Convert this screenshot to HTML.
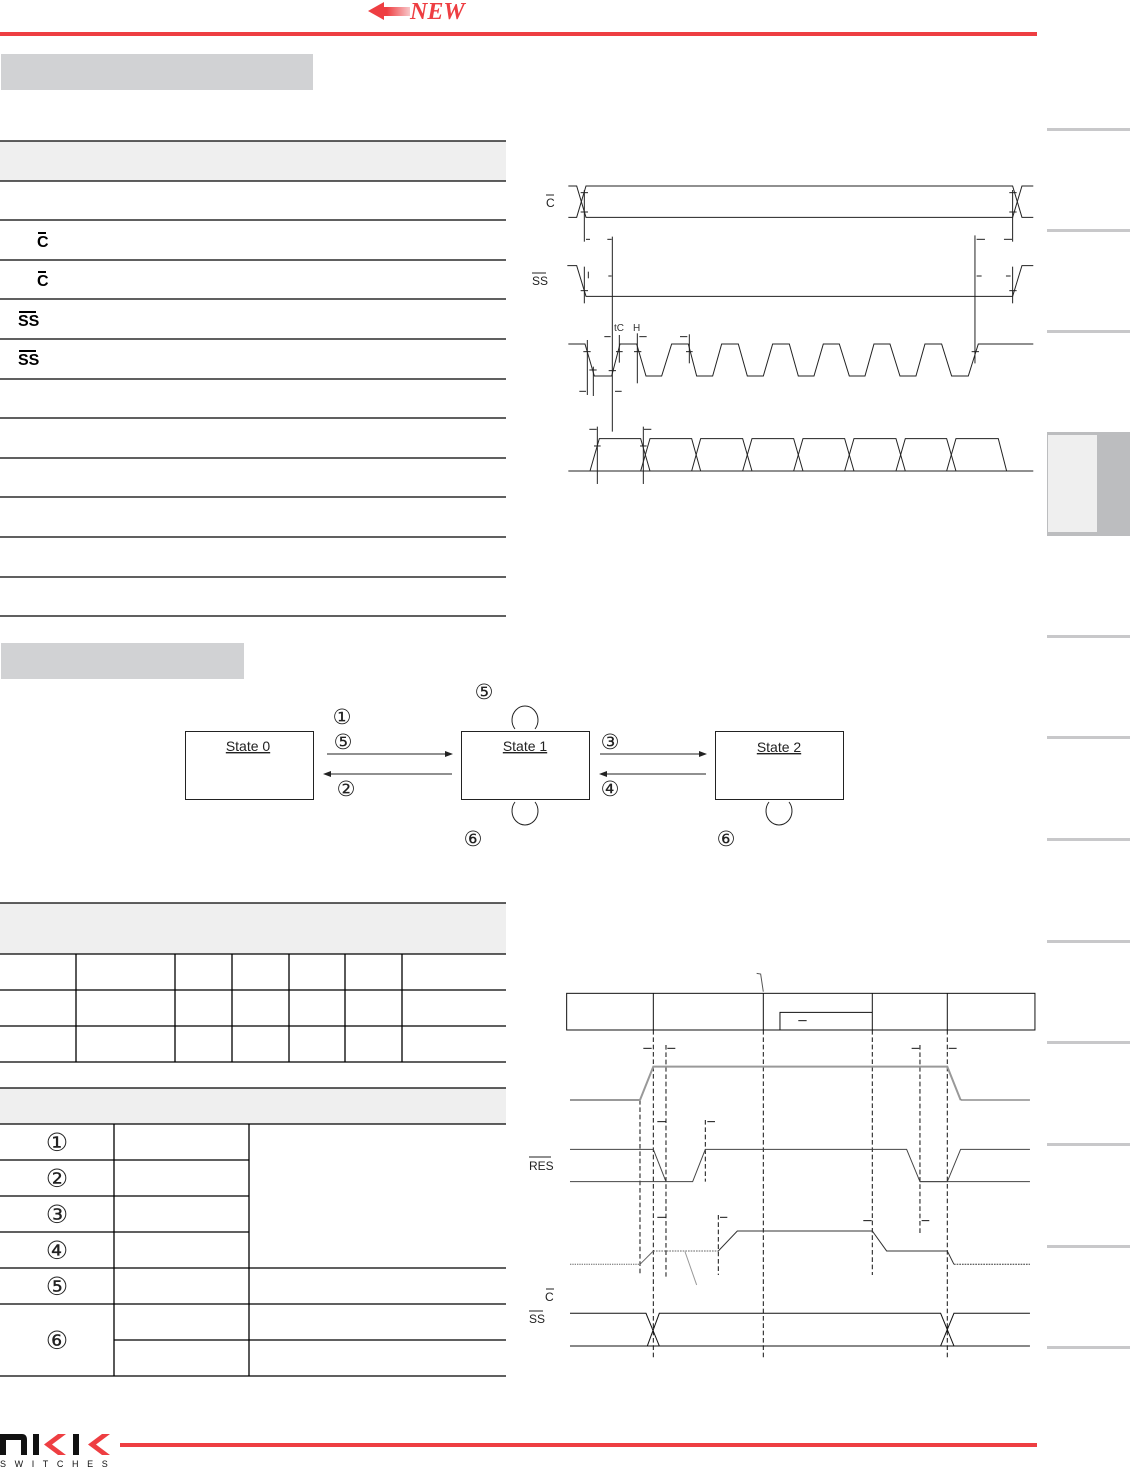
<!DOCTYPE html>
<html><head><meta charset="utf-8"><style>
html,body{margin:0;padding:0;background:#fff;}
svg{display:block;font-family:"Liberation Sans",sans-serif;}
</style></head><body>
<svg width="1130" height="1469" viewBox="0 0 1130 1469" xmlns="http://www.w3.org/2000/svg">
<defs>
<linearGradient id="ag" x1="0" x2="1"><stop offset="0" stop-color="#ee3e42"/><stop offset="0.45" stop-color="#ee3e42"/><stop offset="1" stop-color="#f8c8ca"/></linearGradient>
</defs>
<!-- header -->
<polygon points="368,11 384,2 384,7 410,7 410,16 384,16 384,20" fill="url(#ag)"/>
<text x="410" y="19" style="font-family:'Liberation Serif',serif;font-style:italic;font-weight:bold;font-size:24px" fill="#ee3e42">NEW</text>
<rect x="0" y="32" width="1037" height="4" fill="#ee3e42"/>
<rect x="1" y="54" width="312" height="36" fill="#d1d2d4"/>

<!-- sidebar -->
<g fill="#c8c8ca">
<rect x="1047" y="128" width="83" height="3"/><rect x="1047" y="229" width="83" height="3"/><rect x="1047" y="330" width="83" height="3"/>
<rect x="1047" y="635" width="83" height="3"/><rect x="1047" y="736" width="83" height="3"/><rect x="1047" y="838" width="83" height="3"/>
<rect x="1047" y="940" width="83" height="3"/><rect x="1047" y="1041" width="83" height="3"/><rect x="1047" y="1143" width="83" height="3"/>
<rect x="1047" y="1245" width="83" height="3"/><rect x="1047" y="1346" width="83" height="3"/>
</g>
<rect x="1047" y="432" width="83" height="104" fill="#bcbdbf"/>
<rect x="1048" y="435" width="49" height="97" fill="#efefef"/>

<!-- table 1 -->
<rect x="0" y="141" width="506" height="40" fill="#efefef"/>
<g stroke="#000" stroke-width="1.3">
<line x1="0" y1="141" x2="506" y2="141"/><line x1="0" y1="181" x2="506" y2="181"/><line x1="0" y1="220" x2="506" y2="220"/>
<line x1="0" y1="260" x2="506" y2="260"/><line x1="0" y1="299" x2="506" y2="299"/><line x1="0" y1="339" x2="506" y2="339"/>
<line x1="0" y1="379" x2="506" y2="379"/><line x1="0" y1="418" x2="506" y2="418"/><line x1="0" y1="458" x2="506" y2="458"/>
<line x1="0" y1="497" x2="506" y2="497"/><line x1="0" y1="537" x2="506" y2="537"/><line x1="0" y1="577" x2="506" y2="577"/>
<line x1="0" y1="616" x2="506" y2="616"/>
</g>
<g font-weight="bold" font-size="16">
<text x="37" y="247">C</text><rect x="38" y="232" width="8" height="2"/>
<text x="37" y="286">C</text><rect x="38" y="271" width="8" height="2"/>
<text x="18" y="326">SS</text><rect x="19" y="311" width="17" height="2"/>
<text x="18" y="365">SS</text><rect x="19" y="350" width="17" height="2"/>
</g>

<!-- timing diagram 1 -->
<g transform="translate(560,170) scale(0.3333)" fill="none" stroke="#222" stroke-width="3">
<polyline points="25,48 50,48 78,142 1358,142 1386,48 1420,48"/>
<polyline points="25,142 50,142 78,48 1358,48 1386,142 1420,142"/>
<line x1="73" y1="60" x2="73" y2="215"/><line x1="73" y1="290" x2="73" y2="400"/>
<line x1="1358" y1="60" x2="1358" y2="215"/><line x1="1358" y1="290" x2="1358" y2="400"/>
<line x1="62" y1="68" x2="84" y2="68"/><line x1="62" y1="126" x2="84" y2="126"/>
<line x1="1348" y1="68" x2="1370" y2="68"/><line x1="1348" y1="126" x2="1370" y2="126"/>
<line x1="78" y1="208" x2="90" y2="208"/><line x1="142" y1="208" x2="155" y2="208"/>
<line x1="1250" y1="208" x2="1275" y2="208"/><line x1="1332" y1="208" x2="1356" y2="208"/>
<line x1="145" y1="318" x2="155" y2="318"/><line x1="1250" y1="318" x2="1265" y2="318"/><line x1="1338" y1="318" x2="1352" y2="318"/>
<polyline points="22,287 50,287 78,379 1358,379 1386,287 1420,287"/>
<line x1="62" y1="362" x2="84" y2="362"/><line x1="1348" y1="362" x2="1370" y2="362"/>
<line x1="85" y1="305" x2="85" y2="325"/>
<line x1="157" y1="200" x2="157" y2="785"/>
<line x1="1245" y1="196" x2="1245" y2="580"/>
<polyline points="25,522 75,522 103,618 155,618 180,522 230,522 258,618 305,618 335,522 385,522 410,618 458,618 485,522 535,522 562,618 610,618 638,522 688,522 715,618 762,618 790,522 838,522 868,618 915,618 942,522 990,522 1020,618 1068,618 1095,522 1145,522 1175,618 1225,618 1255,522 1420,522"/>
<line x1="82" y1="510" x2="82" y2="675"/><line x1="100" y1="590" x2="100" y2="678"/>
<line x1="178" y1="495" x2="178" y2="578"/><line x1="232" y1="490" x2="232" y2="640"/><line x1="388" y1="493" x2="388" y2="580"/>
<line x1="70" y1="545" x2="92" y2="545"/><line x1="88" y1="600" x2="110" y2="600"/><line x1="146" y1="602" x2="168" y2="602"/>
<line x1="168" y1="545" x2="188" y2="545"/><line x1="222" y1="545" x2="244" y2="545"/><line x1="378" y1="545" x2="398" y2="545"/>
<line x1="1235" y1="545" x2="1257" y2="545"/>
<line x1="58" y1="664" x2="78" y2="664"/><line x1="165" y1="664" x2="185" y2="664"/>
<line x1="133" y1="500" x2="152" y2="500"/><line x1="238" y1="500" x2="260" y2="500"/><line x1="360" y1="500" x2="382" y2="500"/>
<line x1="25" y1="903" x2="1420" y2="903"/>
<polyline points="90,903 118,806 242,806 270,903"/>
<polyline points="242,903 270,806 395,806 422,903"/>
<polyline points="395,903 422,806 548,806 576,903"/>
<polyline points="548,903 576,806 701,806 729,903"/>
<polyline points="701,903 729,806 854,806 882,903"/>
<polyline points="854,903 882,806 1008,806 1036,903"/>
<polyline points="1008,903 1036,806 1160,806 1188,903"/>
<polyline points="1160,903 1188,806 1315,806 1340,903"/>
<line x1="112" y1="770" x2="112" y2="942"/><line x1="250" y1="770" x2="250" y2="942"/>
<line x1="88" y1="778" x2="110" y2="778"/><line x1="252" y1="778" x2="274" y2="778"/>
<line x1="102" y1="828" x2="122" y2="828"/><line x1="240" y1="828" x2="260" y2="828"/>
</g>
<g font-size="10" fill="#333"><text x="614" y="331">tC</text><text x="633" y="331">H</text></g>
<text x="546" y="207" font-size="12" fill="#222">C</text><line x1="546" y1="195" x2="554" y2="195" stroke="#222"/>
<text x="532" y="285" font-size="12" fill="#222">SS</text><line x1="532" y1="273" x2="546" y2="273" stroke="#222"/>

<!-- section 2 -->
<rect x="1" y="643" width="243" height="36" fill="#d1d2d4"/>
<g fill="none" stroke="#222" stroke-width="1">
<rect x="185.5" y="731.5" width="128" height="68"/>
<rect x="461.5" y="731.5" width="128" height="68"/>
<rect x="715.5" y="731.5" width="128" height="68"/>
<line x1="327" y1="754" x2="446" y2="754"/><line x1="329" y1="774" x2="452" y2="774"/>
<line x1="600" y1="754" x2="700" y2="754"/><line x1="605" y1="774" x2="706" y2="774"/>
<path d="M515,729 A13,14 0 1 1 535,729"/>
<path d="M515,802 A13,14 0 1 0 535,802"/>
<path d="M769,802 A13,14 0 1 0 789,802"/>
</g>
<g fill="#222">
<polygon points="453,754 445,751 445,757"/><polygon points="323,774 331,771 331,777"/>
<polygon points="707,754 699,751 699,757"/><polygon points="599,774 607,771 607,777"/>
</g>
<g font-size="14" fill="#222" text-anchor="middle" text-decoration="underline">
<text x="248" y="751">State 0</text><text x="525" y="751">State 1</text><text x="779" y="752">State 2</text>
</g>
<g fill="#222" text-anchor="middle" style="font-family:'DejaVu Sans',sans-serif;font-size:21px">
<text x="342" y="724">①</text><text x="343" y="749">⑤</text><text x="346" y="796">②</text>
<text x="610" y="749">③</text><text x="610" y="796">④</text><text x="484" y="699">⑤</text>
<text x="473" y="846">⑥</text><text x="726" y="846">⑥</text>
</g>

<!-- table 2 -->
<rect x="0" y="903" width="506" height="51" fill="#efefef"/>
<g stroke="#000" stroke-width="1.3">
<line x1="0" y1="903" x2="506" y2="903"/><line x1="0" y1="954" x2="506" y2="954"/>
<line x1="0" y1="990" x2="506" y2="990"/><line x1="0" y1="1026" x2="506" y2="1026"/><line x1="0" y1="1062" x2="506" y2="1062"/>
<line x1="76" y1="954" x2="76" y2="1062"/><line x1="175" y1="954" x2="175" y2="1062"/><line x1="232" y1="954" x2="232" y2="1062"/>
<line x1="289" y1="954" x2="289" y2="1062"/><line x1="345" y1="954" x2="345" y2="1062"/><line x1="402" y1="954" x2="402" y2="1062"/>
</g>
<!-- table 3 -->
<rect x="0" y="1088" width="506" height="36" fill="#efefef"/>
<g stroke="#000" stroke-width="1.3">
<line x1="0" y1="1088" x2="506" y2="1088"/><line x1="0" y1="1124" x2="506" y2="1124"/>
<line x1="0" y1="1160" x2="249" y2="1160"/><line x1="0" y1="1196" x2="249" y2="1196"/><line x1="0" y1="1232" x2="249" y2="1232"/>
<line x1="0" y1="1268" x2="506" y2="1268"/><line x1="0" y1="1304" x2="506" y2="1304"/><line x1="114" y1="1340" x2="506" y2="1340"/>
<line x1="0" y1="1376" x2="506" y2="1376"/>
<line x1="114" y1="1124" x2="114" y2="1376"/><line x1="249" y1="1124" x2="249" y2="1376"/>
</g>
<g fill="#222" text-anchor="middle" style="font-family:'DejaVu Sans',sans-serif;font-size:25px">
<text x="57" y="1151">①</text><text x="57" y="1187">②</text><text x="57" y="1223">③</text>
<text x="57" y="1259">④</text><text x="57" y="1295">⑤</text><text x="57" y="1349">⑥</text>
</g>

<!-- timing diagram 2 -->
<g transform="translate(520,970) scale(0.3333)" fill="none" stroke="#111" stroke-width="3">
<rect x="140" y="70" width="1405" height="110"/>
<line x1="400" y1="70" x2="400" y2="180"/><line x1="730" y1="70" x2="730" y2="180"/>
<line x1="1057" y1="70" x2="1057" y2="180"/><line x1="1282" y1="70" x2="1282" y2="180"/>
<polyline points="780,180 780,127 1057,127"/>
<line x1="835" y1="152" x2="860" y2="152"/>
<polyline points="710,10 722,12 730,65" stroke="#555"/>
<g stroke-dasharray="14,8">
<line x1="400" y1="180" x2="400" y2="1170"/><line x1="730" y1="180" x2="730" y2="1170"/>
<line x1="1057" y1="180" x2="1057" y2="915"/><line x1="1282" y1="180" x2="1282" y2="1170"/>
<line x1="360" y1="390" x2="360" y2="915"/><line x1="438" y1="225" x2="438" y2="920"/>
<line x1="556" y1="450" x2="556" y2="635"/><line x1="595" y1="735" x2="595" y2="915"/>
<line x1="1200" y1="225" x2="1200" y2="790"/>
</g>
<line x1="370" y1="235" x2="395" y2="235"/><line x1="442" y1="235" x2="466" y2="235"/>
<line x1="1175" y1="235" x2="1198" y2="235"/><line x1="1286" y1="235" x2="1310" y2="235"/>
<line x1="412" y1="455" x2="437" y2="455"/><line x1="562" y1="455" x2="585" y2="455"/>
<line x1="412" y1="742" x2="437" y2="742"/><line x1="600" y1="742" x2="622" y2="742"/>
<line x1="1030" y1="752" x2="1055" y2="752"/><line x1="1205" y1="752" x2="1228" y2="752"/>
<polyline points="150,390 360,390 400,290 1282,290 1322,390" stroke="#999" stroke-width="6"/>
<line x1="1322" y1="390" x2="1530" y2="390" stroke="#555"/>
<polyline points="150,538 400,538 438,635 518,635 556,538 1160,538 1200,635 1530,635" stroke="#444"/>
<line x1="150" y1="635" x2="438" y2="635" stroke="#444"/>
<polyline points="1200,635 1282,635 1322,538 1530,538" stroke="#444"/>
<line x1="150" y1="883" x2="360" y2="883" stroke="#666" stroke-dasharray="4,3"/>
<polyline points="360,883 400,843" stroke="#666"/>
<line x1="400" y1="843" x2="595" y2="843" stroke="#666" stroke-dasharray="5,3"/>
<polyline points="595,843 652,783 1057,783 1100,843 1282,843 1302,883" stroke="#333"/>
<line x1="1302" y1="883" x2="1530" y2="883" stroke="#333" stroke-dasharray="5,3"/>
<polyline points="495,845 530,945" stroke="#999"/>
<polyline points="150,1030 378,1030 418,1128"/>
<polyline points="382,1128 418,1030 1262,1030 1302,1128"/>
<polyline points="1262,1128 1302,1030 1530,1030"/>
<line x1="150" y1="1128" x2="1530" y2="1128"/>
</g>
<g font-size="12" fill="#222">
<text x="529" y="1170">RES</text><line x1="529" y1="1157" x2="551" y2="1157" stroke="#222"/>
<text x="545" y="1301">C</text><line x1="546" y1="1289" x2="554" y2="1289" stroke="#222"/>
<text x="529" y="1323">SS</text><line x1="529" y1="1311" x2="543" y2="1311" stroke="#222"/>
</g>

<!-- footer -->
<rect x="120" y="1443" width="917" height="4" fill="#ee3e42"/>
<g fill="#111">
<path d="M0,1434 H22 Q27,1434 27,1440 V1455 H21 V1440 H6 V1455 H0 Z"/>
<rect x="33" y="1434" width="6" height="21"/>
<rect x="73" y="1434" width="6" height="21"/>
</g>
<g fill="#ee3e42">
<polygon points="58,1434 66,1434 52,1444.5 66,1455 58,1455 44,1444.5"/>
<polygon points="102,1434 110,1434 96,1444.5 110,1455 102,1455 88,1444.5"/>
</g>
<text x="0" y="1467" font-size="9" letter-spacing="8.6" fill="#111">SWITCHES</text>
</svg>
</body></html>
